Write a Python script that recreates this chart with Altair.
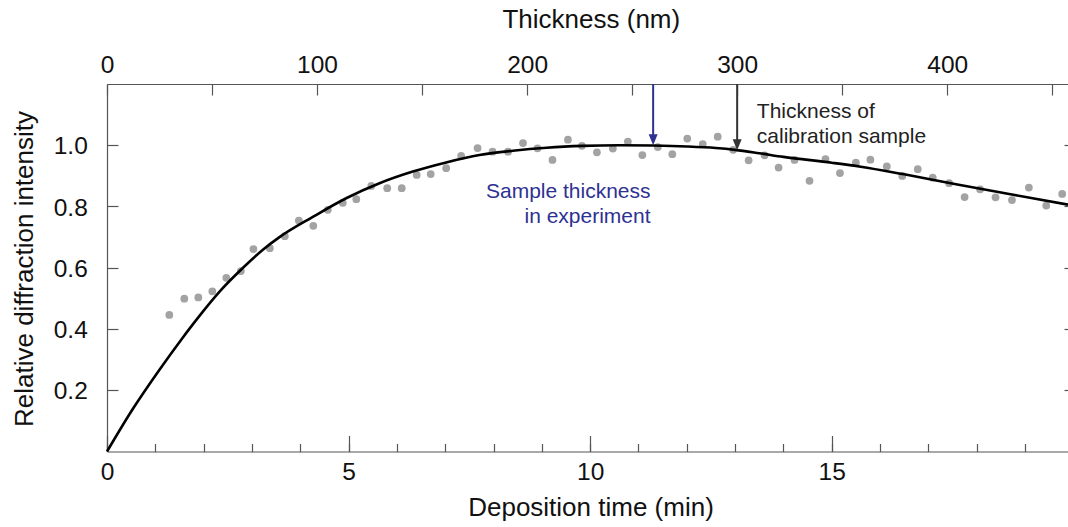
import altair as alt
import pandas as pd

# ---------------- data ----------------
point_time = [1.29, 1.60, 1.89, 2.18, 2.47, 2.77, 3.03, 3.37, 3.68, 3.97,
              4.27, 4.57, 4.88, 5.16, 5.47, 5.80, 6.10, 6.41, 6.70, 7.02,
              7.33, 7.67, 7.98, 8.30, 8.61, 8.91, 9.22, 9.54, 9.83, 10.14,
              10.47, 10.78, 11.08, 11.40, 11.70, 12.01, 12.33, 12.64, 12.96, 13.28,
              13.61, 13.90, 14.23, 14.54, 14.87, 15.17, 15.50, 15.80, 16.14, 16.46,
              16.78, 17.09, 17.43, 17.75, 18.07, 18.39, 18.73, 19.08, 19.44, 19.77]
point_value = [0.446, 0.499, 0.503, 0.523, 0.567, 0.589, 0.661, 0.664, 0.703, 0.754,
               0.737, 0.789, 0.812, 0.824, 0.867, 0.860, 0.860, 0.903, 0.906, 0.925,
               0.965, 0.991, 0.979, 0.979, 1.007, 0.990, 0.952, 1.018, 0.998, 0.977,
               0.989, 1.012, 0.968, 0.994, 0.971, 1.022, 1.004, 1.028, 0.985, 0.951,
               0.967, 0.927, 0.952, 0.884, 0.955, 0.909, 0.943, 0.953, 0.931, 0.900,
               0.922, 0.894, 0.876, 0.831, 0.856, 0.830, 0.821, 0.862, 0.803, 0.841]

curve_time = [0, 0.53, 1.09, 1.54, 1.91, 2.33, 2.81, 3.22, 3.57, 4.26, 4.95, 5.64,
              6.33, 7.02, 7.71, 8.40, 9.10, 9.85, 10.6, 11.3, 12.0, 12.6, 13.0,
              13.5, 14.0, 15.0, 15.6, 16.5, 17.6, 18.7, 19.89]
curve_value = [0, 0.138, 0.268, 0.366, 0.442, 0.522, 0.599, 0.658, 0.700, 0.766, 0.827, 0.876,
               0.914, 0.944, 0.968, 0.982, 0.992, 0.998, 1.0, 0.999, 0.996, 0.991, 0.985,
               0.974, 0.962, 0.943, 0.930, 0.905, 0.872, 0.840, 0.806]

arrow_kind = ["experiment", "calibration"]
arrow_thickness = [260, 300]
arrow_tip = [1.0, 0.984]

sample_lines = ["Sample thickness", "in experiment"]
sample_time = [11.25, 11.25]
sample_value = [0.828, 0.745]

calib_lines = ["Thickness of", "calibration sample"]
calib_time = [13.45, 13.45]
calib_value = [1.088, 1.007]

major_time_ticks = [0, 5, 10, 15]
minor_time_ticks = list(range(0, 20))
thickness_ticks = list(range(0, 451, 50))
y_ticks = [0.2, 0.4, 0.6, 0.8, 1.0]

T_MAX = 19.89
NM_MAX = 457.5
Y_MAX = 1.2

# ---------------- styling ----------------
W, H = 961, 367.5
FONT = "Liberation Sans"
AXIS_GRAY = "#555555"
BLUE = "#2e3192"
DARK = "#222222"
LABEL_SIZE = 24.5
TITLE_SIZE = 26

df_points = pd.DataFrame({"time": point_time, "value": point_value})
df_curve = pd.DataFrame({"time": curve_time, "value": curve_value})
df_arrows = pd.DataFrame({"kind": arrow_kind, "thickness": arrow_thickness,
                          "tip": arrow_tip, "start": [Y_MAX] * len(arrow_kind)})
df_sample = pd.DataFrame({"text": sample_lines, "time": sample_time, "value": sample_value})
df_calib = pd.DataFrame({"text": calib_lines, "time": calib_time, "value": calib_value})

x_time = alt.Scale(domain=[0, T_MAX], nice=False, zero=False)
x_nm = alt.Scale(domain=[0, NM_MAX], nice=False, zero=False)
y_scale = alt.Scale(domain=[0, Y_MAX], nice=False, zero=False)

common = dict(grid=False, domainColor=AXIS_GRAY, domainWidth=1.2, tickColor=AXIS_GRAY,
              tickWidth=1.2, labelFont=FONT, labelFontSize=LABEL_SIZE, labelColor="#111111",
              titleFont=FONT, titleFontSize=TITLE_SIZE, titleFontWeight="normal",
              titleColor="#111111", labelOverlap=False)

bottom_major = alt.Axis(orient="bottom", values=major_time_ticks, tickSize={"expr": "-16"},
                        labelPadding=43.5, labelBaseline="alphabetic", labelFlush=False,
                        title="Deposition time (min)", titleX=483.5, titleY=63.5,
                        titleBaseline="alphabetic", titleAlign="center", **common)
bottom_minor = alt.Axis(orient="bottom", values=minor_time_ticks, tickSize={"expr": "-8"},
                        labels=False, domain=False, title=None, **common)
top_axis = alt.Axis(orient="top", values=thickness_ticks, tickSize={"expr": "-11"},
                    labelExpr="datum.value % 100 === 0 ? datum.label : ''",
                    labelPadding=22.5, labelBaseline="alphabetic", labelFlush=False,
                    title="Thickness (nm)", titleX=483.8, titleY=-57,
                    titleBaseline="alphabetic", titleAlign="center", **common)
left_axis = alt.Axis(orient="left", values=y_ticks, tickSize={"expr": "-11"}, format=".1f",
                     labelPadding=30.7, labelBaseline="middle", labelOffset=1.5,
                     title="Relative diffraction intensity", titleX=-75, titleY=184.5,
                     titleAngle=270, titleBaseline="alphabetic", titleAlign="center", **common)
right_axis = alt.Axis(orient="right", values=y_ticks, tickSize={"expr": "-4"},
                      labels=False, domain=False, title=None, **common)

# ---------------- time-scale layers ----------------
points = alt.Chart(df_points).mark_circle(size=60, color="#a3a3a3", opacity=1).encode(
    x=alt.X("time:Q", scale=x_time, axis=bottom_major),
    y=alt.Y("value:Q", scale=y_scale, axis=left_axis),
)
curve = alt.Chart(df_curve).mark_line(color="black", strokeWidth=2.6, interpolate="monotone").encode(
    x=alt.X("time:Q", scale=x_time, axis=None),
    y=alt.Y("value:Q", scale=y_scale, axis=None),
)
sample_text = alt.Chart(df_sample).mark_text(align="right", baseline="alphabetic", font=FONT,
                                             fontSize=21, color=BLUE).encode(
    x=alt.X("time:Q", scale=x_time, axis=None),
    y=alt.Y("value:Q", scale=y_scale, axis=None),
    text="text:N",
)
calib_text = alt.Chart(df_calib).mark_text(align="left", baseline="alphabetic", font=FONT,
                                           fontSize=21, color=DARK).encode(
    x=alt.X("time:Q", scale=x_time, axis=None),
    y=alt.Y("value:Q", scale=y_scale, axis=None),
    text="text:N",
)
minor = alt.Chart(df_curve).mark_line(opacity=0).encode(
    x=alt.X("time:Q", scale=x_time, axis=bottom_minor),
    y=alt.Y("value:Q", scale=y_scale, axis=right_axis),
)

# ---------------- thickness-scale layers (top axis + arrows) ----------------
arrow_color = alt.Scale(domain=arrow_kind, range=[BLUE, "#333333"])
shaft = alt.Chart(df_arrows).mark_rule(strokeWidth=2, y2Offset=-6).encode(
    x=alt.X("thickness:Q", scale=x_nm, axis=top_axis),
    y=alt.Y("start:Q", scale=y_scale, axis=None),
    y2="tip:Q",
    color=alt.Color("kind:N", scale=arrow_color, legend=None),
)
head = alt.Chart(df_arrows).mark_point(shape="M -0.45 -1.1 L 0.45 -1.1 L 0 0 Z", size=400,
                                       filled=True, opacity=1, strokeWidth=0).encode(
    x=alt.X("thickness:Q", scale=x_nm, axis=None),
    y=alt.Y("tip:Q", scale=y_scale, axis=None),
    color=alt.Color("kind:N", scale=arrow_color, legend=None),
)

chart = alt.layer(points, curve, sample_text, calib_text, minor, shaft, head).resolve_scale(
    x="independent", y="shared"
).resolve_axis(
    x="independent", y="independent"
).properties(
    width=W, height=H,
    padding={"left": 107, "top": 84, "right": 0, "bottom": 75.5},
    autosize=alt.AutoSizeParams(type="none"),
    background="white",
).configure_view(stroke=None)

chart.save("out.html", embed_options={"renderer": "svg", "actions": False})
